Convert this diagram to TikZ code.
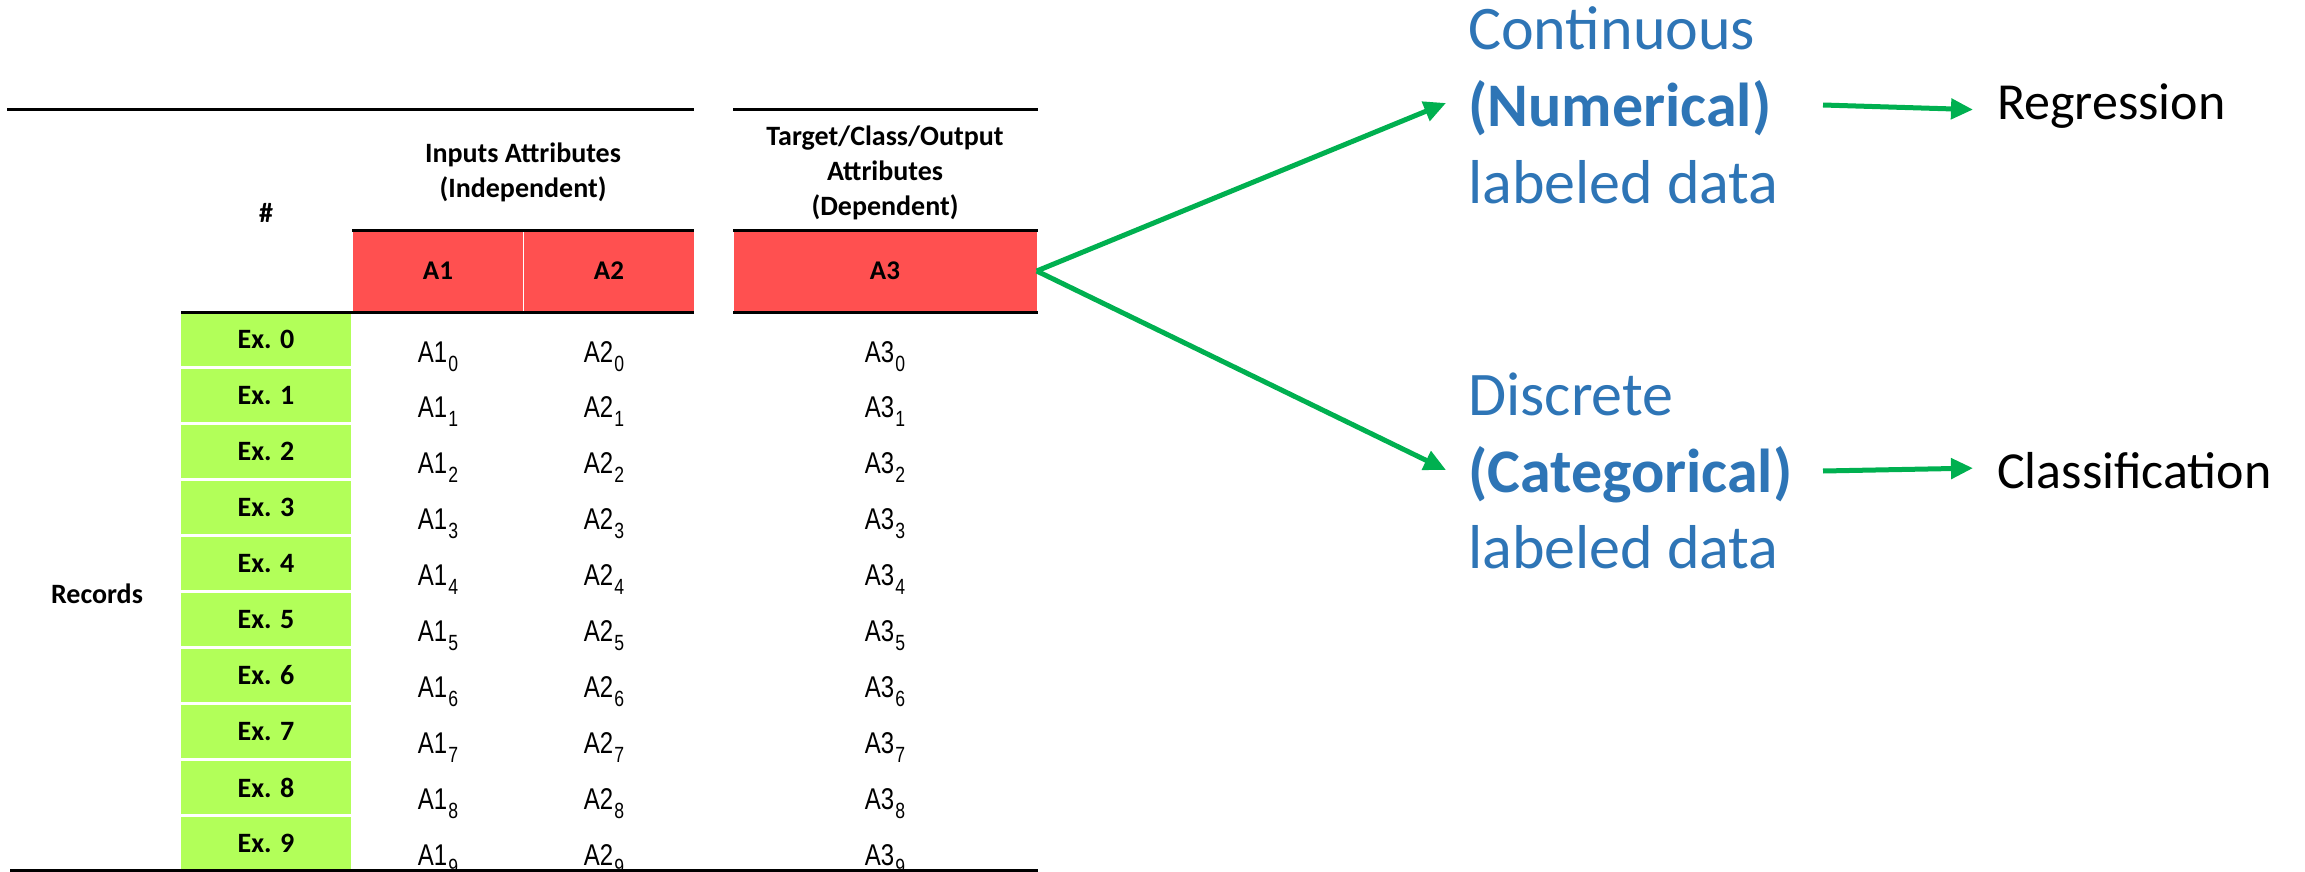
\documentclass[tikz,border=0pt]{standalone}
\usepackage{fontspec}
\setmainfont{Carlito}
\newfontfamily\valfont[FakeStretch=0.8]{Liberation Sans}
\usetikzlibrary{arrows.meta}
\definecolor{hdrred}{HTML}{FF5050}
\definecolor{rowgreen}{HTML}{B2FF59}
\definecolor{arrgreen}{HTML}{00B050}
\definecolor{txtblue}{HTML}{2E75B6}
\newcommand{\valtxt}[2]{{\valfont\fontsize{30}{32}\selectfont A#1\kern1pt\raisebox{-9pt}{\fontsize{22}{24}\selectfont #2}}}
\tikzset{
  rulel/.style={line width=3pt, black},
  hdr/.style={font=\bfseries\fontsize{28}{35}\selectfont, align=center, inner sep=0pt},
  redcell/.style={fill=hdrred, draw=none, inner sep=0pt, minimum height=81pt, font=\bfseries\fontsize{27}{30}\selectfont},
  greencell/.style={fill=rowgreen, draw=none, inner sep=0pt, minimum width=170pt, minimum height=53pt, font=\bfseries\fontsize{28}{30}\selectfont},
  valnode/.style={inner sep=0pt, anchor=base},
  bluetxt/.style={text=txtblue, font=\fontsize{62}{77}\selectfont, anchor=base west, inner sep=0pt},
  blacktxt/.style={text=black, font=\fontsize{52}{60}\selectfont, anchor=base west, inner sep=0pt},
  arr/.style={draw=arrgreen, line width=5pt, -{Triangle[length=22pt,width=20pt]}}
}
\begin{document}
\begin{tikzpicture}[x=1pt,y=-1pt]
\useasboundingbox (0,0) rectangle (2305,872);
% header texts
\node[hdr] (hash) at (266,213) {\#};
\node[hdr] (inputs) at (523,172) {Inputs Attributes\\(Independent)};
\node[hdr] (target) at (885,173) {Target/Class/Output\\Attributes\\(Dependent)};
\node[hdr] (records) at (97,594) {Records};
% red header cells
\node[redcell, minimum width=170pt] (a1) at (438,271) {A1};
\node[redcell, minimum width=170pt] (a2) at (609,271) {A2};
\node[redcell, minimum width=303pt] (a3) at (885,271) {A3};
% green row cells and values
\foreach \i in {0,...,9}{
  \node[greencell] (ex\i) at (266,{339.5+56*\i}) {Ex. \i};
  \node[valnode] (va\i) at (438,{362+55.9*\i}) {\valtxt{1}{\i}};
  \node[valnode] (vb\i) at (604,{362+55.9*\i}) {\valtxt{2}{\i}};
  \node[valnode] (vc\i) at (885,{362+55.9*\i}) {\valtxt{3}{\i}};
}
% rules
\draw[rulel] (7,110) -- (694,110);
\draw[rulel] (733,110) -- (1038,110);
\draw[rulel] (352,230) -- (694,230);
\draw[rulel] (733,230) -- (1038,230);
\draw[rulel] (181,312) -- (694,312);
\draw[rulel] (733,312) -- (1038,312);
\draw[rulel] (10,870) -- (1038,870);
% right side texts
\node[bluetxt] (cont) at (1468,50) {Continuous};
\node[bluetxt, font=\bfseries\fontsize{62}{77}\selectfont] (num) at (1468,127) {(Numerical)};
\node[bluetxt] (lab1) at (1468,203) {labeled data};
\node[bluetxt] (disc) at (1468,415) {Discrete};
\node[bluetxt, font=\bfseries\fontsize{62}{77}\selectfont] (cat) at (1468,492) {(Categorical)};
\node[bluetxt] (lab2) at (1468,568) {labeled data};
\node[blacktxt] (reg) at (1997,120) {Regression};
\node[blacktxt] (cls) at (1997,488) {Classification};
% arrows
\coordinate (numtip) at (1446,103);
\coordinate (cattip) at (1446,470);
\coordinate (numout) at (1823,105);
\coordinate (catout) at (1823,471);
\draw[arr] (a3.east) -- (numtip);
\draw[arr] (a3.east) -- (cattip);
\draw[arr] (numout) -- ([xshift=-24pt,yshift=-3pt]reg.west);
\draw[arr] (catout) -- ([xshift=-24pt,yshift=2pt]cls.west);
\end{tikzpicture}
\end{document}
